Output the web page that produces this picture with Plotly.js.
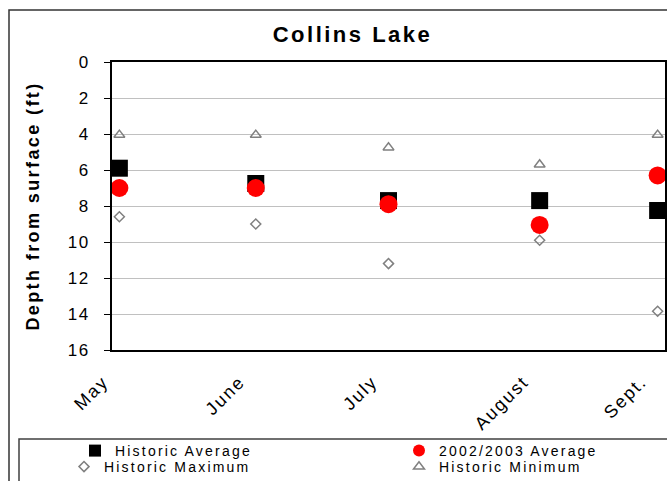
<!DOCTYPE html>
<html>
<head>
<meta charset="utf-8">
<script src="https://cdn.plot.ly/plotly-3.0.1.min.js"></script>
<style>
  html, body { margin: 0; padding: 0; background: #fff; }
  #chart { width: 667px; height: 481px; }
  #chart .gtitle { letter-spacing: 2.5px; }
  #chart .ytitle { letter-spacing: 2.4px; }
  #chart .xtick text { letter-spacing: 2px; }
  #chart .ytick text { letter-spacing: 1.5px; }
  #chart .legendtext, #chart .legend2text, #chart .legend3text, #chart .legend4text { letter-spacing: 2.2px; }
</style>
</head>
<body>
<div id="chart"></div>
<script>
// Month labels and sampling position (days after May 1)
const months = ['May', 'June', 'July', 'August', 'Sept.'];
const sampleDay = [2, 39, 75, 116, 148];

// Depth from surface (ft)
const historicAverage = [5.9, 6.75, 7.7, 7.7, 8.25];
const avg2002_2003 = [7.0, 7.0, 7.9, 9.05, 6.3];
const historicMaximum = [8.6, 9.0, 11.2, 9.9, 13.85];
const historicMinimum = [4.05, 4.05, 4.75, 5.7, 4.05];

const FONT = 'Liberation Sans, Arial, sans-serif';

const traces = [
  {
    type: 'scatter', mode: 'markers', name: 'Historic Average',
    x: sampleDay, y: historicAverage, legend: 'legend',
    marker: { symbol: 'square', size: 17, color: '#000000' }
  },
  {
    type: 'scatter', mode: 'markers', name: '2002/2003 Average',
    x: sampleDay, y: avg2002_2003, legend: 'legend2',
    marker: { symbol: 'circle', size: 18, color: '#ff0000' }
  },
  {
    type: 'scatter', mode: 'markers', name: 'Historic Maximum',
    x: sampleDay, y: historicMaximum, legend: 'legend3',
    marker: { symbol: 'diamond-open', size: 7.7, color: '#808080', line: { width: 1.5, color: '#808080' } }
  },
  {
    type: 'scatter', mode: 'markers', name: 'Historic Minimum',
    x: sampleDay, y: historicMinimum, legend: 'legend4',
    marker: { symbol: 'triangle-up-open', size: 9.5, color: '#808080', line: { width: 1.5, color: '#808080' } }
  }
];

function legendAt(px, py, sizing) {
  return {
    xref: 'container', yref: 'container',
    x: px / 667, y: 1 - py / 481,
    xanchor: 'left', yanchor: 'middle',
    orientation: 'h', entrywidth: 210, entrywidthmode: 'pixels',
    bgcolor: 'rgba(0,0,0,0)', borderwidth: 0,
    itemsizing: sizing,
    font: { family: FONT, size: 14, color: '#000' }
  };
}

const layout = {
  width: 667, height: 481,
  margin: { l: 112, r: 2, t: 62, b: 131, pad: 0, autoexpand: false },
  paper_bgcolor: '#ffffff', plot_bgcolor: '#ffffff',
  font: { family: FONT, color: '#000' },
  title: {
    text: 'Collins Lake',
    font: { family: FONT, size: 22, weight: 'bold', color: '#000' },
    xref: 'container', yref: 'container',
    x: 352.5 / 667, y: 1 - 34 / 481, xanchor: 'center', yanchor: 'middle'
  },
  showlegend: true,
  legend: legendAt(75, 451, 'constant'),
  legend2: legendAt(399, 451, 'constant'),
  legend3: legendAt(64, 467, 'trace'),
  legend4: legendAt(399, 467, 'trace'),
  xaxis: {
    range: [0, 150],
    showgrid: false, zeroline: false,
    showline: true, mirror: true, linecolor: '#000', linewidth: 2,
    tickmode: 'array', tickvals: sampleDay, ticktext: months,
    tickangle: -45, ticks: '',
    ticklabelshift: -16, ticklabelstandoff: 12,
    tickfont: { family: FONT, size: 18, color: '#000' }
  },
  yaxis: {
    range: [16, 0], tick0: 0, dtick: 2,
    automargin: true,
    showgrid: true, gridcolor: '#c0c0c0', gridwidth: 1,
    zeroline: false,
    showline: true, mirror: true, linecolor: '#000', linewidth: 2,
    ticks: 'outside', ticklen: 6, tickwidth: 1, tickcolor: '#000',
    ticklabelstandoff: 11,
    tickfont: { family: FONT, size: 17, color: '#000' },
    title: {
      text: 'Depth from surface (ft)',
      font: { family: FONT, size: 18, weight: 'bold', color: '#000' },
      standoff: 26
    }
  },
  shapes: [
    {
      type: 'rect', xref: 'paper', yref: 'paper', layer: 'above',
      x0: (9 - 112) / 553, x1: (720 - 112) / 553,
      y0: (350 - 520) / 288, y1: (350 - 10) / 288,
      line: { color: '#333333', width: 1.5 }, fillcolor: 'rgba(0,0,0,0)'
    },
    {
      type: 'rect', xref: 'paper', yref: 'paper', layer: 'above',
      x0: (19 - 112) / 553, x1: (720 - 112) / 553,
      y0: (350 - 520) / 288, y1: (350 - 439) / 288,
      line: { color: '#404040', width: 1.5 }, fillcolor: 'rgba(0,0,0,0)'
    }
  ]
};

Plotly.newPlot('chart', traces, layout, { displayModeBar: false, staticPlot: true });
</script>
</body>
</html>
